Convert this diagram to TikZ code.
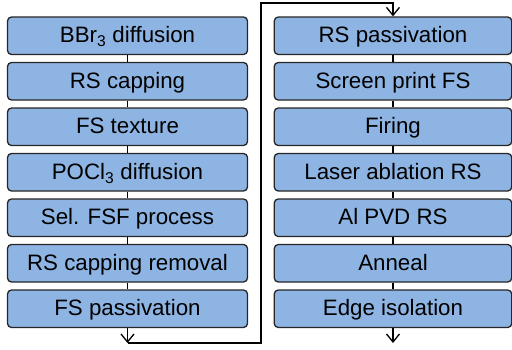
\documentclass[tikz,border=0pt]{standalone}
\usepackage{fontspec}
\setmainfont{Liberation Sans}
\usetikzlibrary{arrows.meta}
\definecolor{stepblue}{RGB}{141,180,226}

\tikzset{
  proc/.style={draw=black!85, fill=stepblue, rounded corners=4pt, line width=1.3pt,
    minimum height=37.5pt, inner sep=0pt, text height=16pt, text depth=2pt,
    font=\fontsize{22.3}{26}\selectfont},
  >={Straight Barb[length=8pt,width=13pt]}
}

\begin{document}
\begin{tikzpicture}[x=1pt, y=-1pt, line width=1.3pt]
        \useasboundingbox (0,0) rectangle (512,349);

        % first half of the process
        \node[proc, minimum width=240pt] (bbr) at (127.5,35.75) {BBr\textsubscript{3} diffusion};
        \node[proc, minimum width=240pt] (rscap) at (127.5,81.25) {RS capping};
        \node[proc, minimum width=240pt] (fstex) at (127.5,126.75) {FS texture};
        \node[proc, minimum width=240pt] (pocl) at (127.5,172.25) {POCl\textsubscript{3} diffusion};
        \node[proc, minimum width=240pt] (fsf) at (127.5,217.75) {Sel. FSF process};
        \node[proc, minimum width=240pt] (capoff) at (127.5,263.25) {RS capping removal};
        \node[proc, minimum width=240pt] (fspass) at (127.5,308.75) {FS passivation};

        % second half
        \node[proc, minimum width=237.5pt] (rspass) at (393,35.75) {RS passivation};
        \node[proc, minimum width=237.5pt] (print) at (393,81.25) {Screen print FS};
        \node[proc, minimum width=237.5pt] (firing) at (393,126.75) {Firing};
        \node[proc, minimum width=237.5pt] (laser) at (393,172.25) {Laser ablation RS};
        \node[proc, minimum width=237.5pt] (alpvd) at (393,217.75) {Al PVD RS};
        \node[proc, minimum width=237.5pt] (anneal) at (393,263.25) {Anneal};
        \node[proc, minimum width=237.5pt] (edge) at (393,308.75) {Edge isolation};

        \coordinate (lo) at (127.5,343);
        \coordinate (up) at (261,3);
        \coordinate (out) at (393,343);

        \draw (bbr) -- (rscap);
        \draw (rscap) -- (fstex);
        \draw (fstex) -- (pocl);
        \draw (pocl) -- (fsf);
        \draw (fsf) -- (capoff);
        \draw (capoff) -- (fspass);
        \draw[->] (fspass) -- (lo);
        \draw[->] (lo) -| (up) -| (rspass);

        \draw (rspass) -- (print);
        \draw (print) -- (firing);
        \draw (firing) -- (laser);
        \draw (laser) -- (alpvd);
        \draw (alpvd) -- (anneal);
        \draw (anneal) -- (edge);
        \draw[->] (edge) -- (out);
\end{tikzpicture}
\end{document}
